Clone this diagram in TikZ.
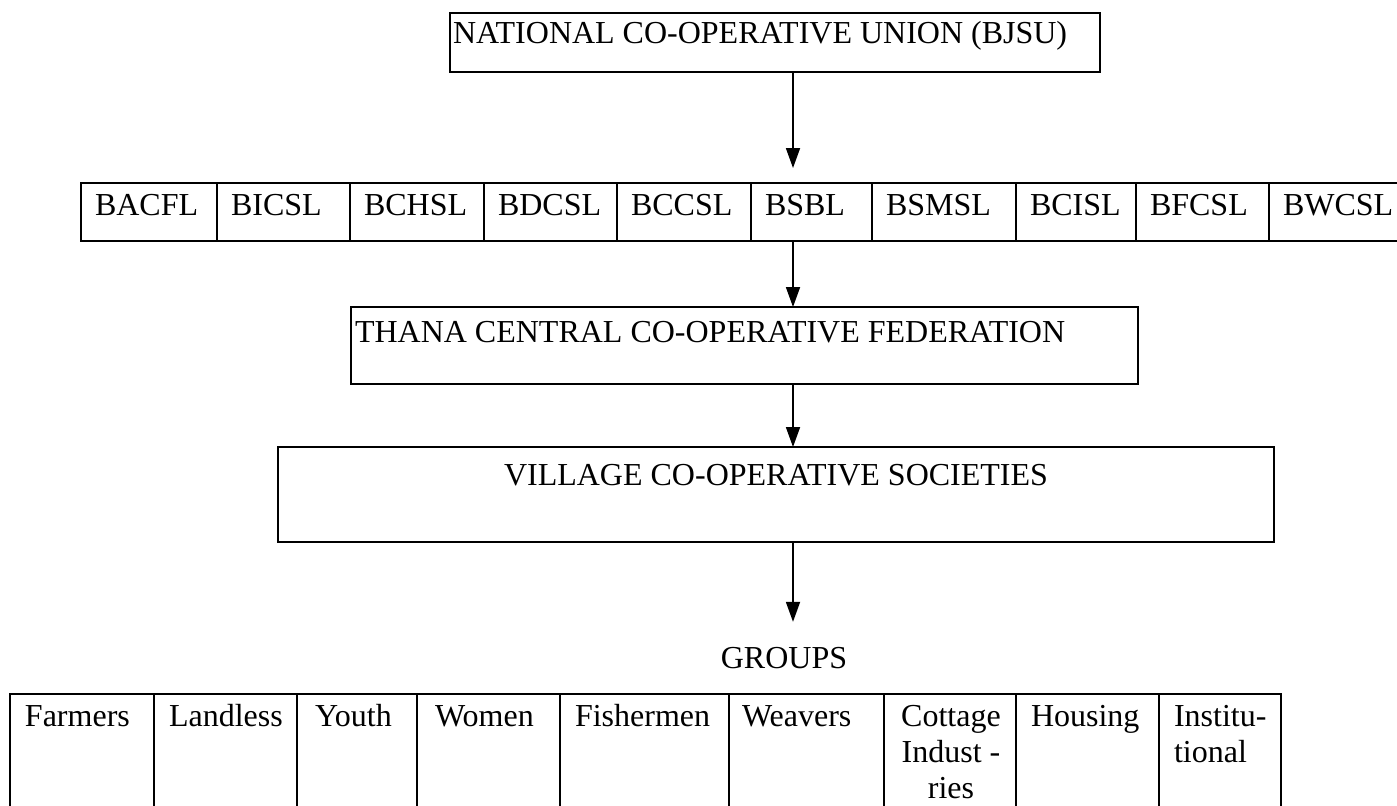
\documentclass[tikz,border=0pt]{standalone}
\usepackage{fontspec}
\setmainfont{Liberation Serif}
\usetikzlibrary{arrows.meta}
\begin{document}
\begin{tikzpicture}[x=0.5pt,y=-0.5pt,
  bigbox/.style={draw, line width=1pt, inner sep=0pt, outer sep=0pt, anchor=north west},
  cellbox/.style={draw, line width=0.6pt, inner sep=0pt, outer sep=0pt, anchor=north west},
  txt/.style={inner sep=0pt, outer sep=0pt, font=\fontsize{16pt}{18.5pt}\selectfont},
  arr/.style={line width=0.9pt, -{Triangle[width=7pt,length=10pt]}}]
\useasboundingbox[fill=white] (0,0) rectangle (1397,805);

% top box
\node[bigbox, minimum width=325pt, minimum height=29.5pt] (nat) at (450,13) {};
\node[txt, anchor=base west] (natT) at (453,43) {NATIONAL CO-OPERATIVE UNION (BJSU)};

% row of national societies
\foreach \n/\xa/\xb/\t in {c1/81/217/BACFL, c2/217/350/BICSL, c3/350/484/BCHSL,
  c4/484/617/BDCSL, c5/617/751/BCCSL, c6/751/872/BSBL, c7/872/1016/BSMSL,
  c8/1016/1136/BCISL, c9/1136/1269/BFCSL, c10/1269/1410/BWCSL} {
  \pgfmathsetmacro\w{(\xb-\xa)*0.5}
  \node[cellbox, minimum width=\w pt, minimum height=29pt] (\n) at (\xa,183) {};
  \node[txt, anchor=base west] (\n-t) at (\xa+14,215) {\t};
}

% thana box
\node[bigbox, minimum width=393.5pt, minimum height=38.5pt] (tcf) at (351,307) {};
\node[txt, anchor=base west] (tcfT) at (355,342) {THANA CENTRAL CO-OPERATIVE FEDERATION};

% village box
\node[bigbox, minimum width=498pt, minimum height=47.5pt] (vcs) at (278,447) {};
\node[txt, anchor=base] (vcsT) at (776,485) {VILLAGE CO-OPERATIVE SOCIETIES};

% groups label
\node[txt, anchor=base] (groups) at (784,668) {GROUPS};

% groups table
\foreach \n/\xa/\xb in {g1/10/154, g2/154/297, g3/297/417, g4/417/560, g5/560/729,
  g6/729/884, g7/884/1016, g8/1016/1159, g9/1159/1281} {
  \pgfmathsetmacro\w{(\xb-\xa)*0.5}
  \node[cellbox, minimum width=\w pt, minimum height=65pt] (\n) at (\xa,694) {};
}
\foreach \n/\x/\t in {g1/25/Farmers, g2/169/Landless, g3/315/Youth, g4/435/Women,
  g5/575/Fishermen, g6/742/Weavers, g8/1031/Housing} {
  \node[txt, anchor=base west] (\n-t) at (\x,726) {\t};
}
\node[txt, anchor=base] (g7-a) at (951,726) {Cottage};
\node[txt, anchor=base] (g7-b) at (951,762) {Indust -};
\node[txt, anchor=base] (g7-c) at (951,798) {ries};
\node[txt, anchor=base west] (g9-a) at (1174,726) {Institu-};
\node[txt, anchor=base west] (g9-b) at (1174,762) {tional};

% arrows
\coordinate (ax) at (793,0);
\draw[arr, shorten >=7.5pt] (nat.south -| ax) -- (c6.north -| ax);
\draw[arr] (c6.south -| ax) -- (tcf.north -| ax);
\draw[arr] (tcf.south -| ax) -- (vcs.north -| ax);
\draw[arr, shorten >=12.5pt] (vcs.south -| ax) -- (groups.north -| ax);
\end{tikzpicture}
\end{document}
